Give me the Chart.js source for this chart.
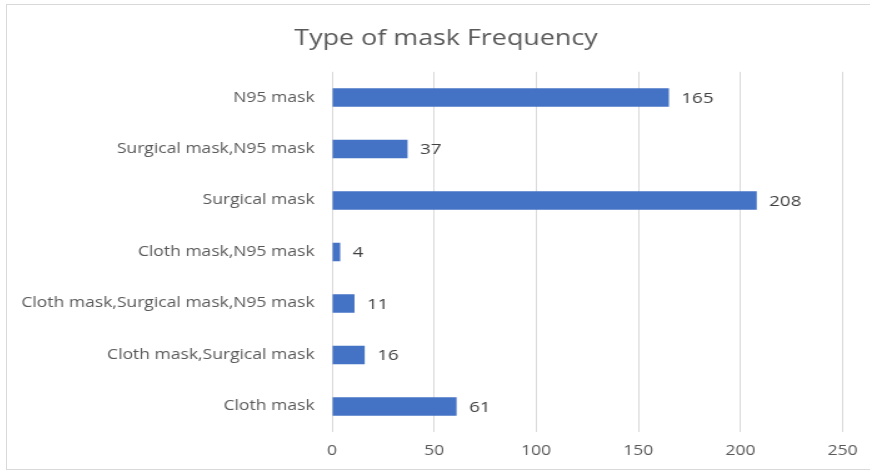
<!DOCTYPE html>
<html lang="en">
<head>
    <meta charset="UTF-8">
    <title>Type of mask Frequency</title>
    <script src="https://cdn.jsdelivr.net/npm/chart.js"></script>
    <style>
        html, body {
            margin: 0;
            padding: 0;
            background: white;
            overflow: hidden;
        }
        .chart-box {
            position: absolute;
            left: 6px;
            top: 4px;
            width: 880px;
            height: 464px;
            border: 1px solid #d9d9d9;
            background: white;
        }
        /* the original picture is stretched sideways, so the chart is drawn
           narrower and widened by the same factor */
        .chart-inner {
            position: absolute;
            left: 0;
            top: 0;
            width: 690.4px;
            height: 464px;
            transform: scaleX(1.25);
            transform-origin: 0 0;
        }
    </style>
</head>
<body>
    <div class="chart-box">
        <div class="chart-inner">
            <canvas id="maskChart"></canvas>
        </div>
    </div>

    <script>
        // Data (top to bottom)
        const categories = [
            'N95 mask',
            'Surgical mask,N95 mask',
            'Surgical mask',
            'Cloth mask,N95 mask',
            'Cloth mask,Surgical mask,N95 mask',
            'Cloth mask,Surgical mask',
            'Cloth mask'
        ];
        const frequencies = [165, 37, 208, 4, 11, 16, 61];
        const xTicks = [0, 50, 100, 150, 200, 250];

        const fontFamily = "'Open Sans', 'Noto Sans', sans-serif";

        // draws the value next to each bar
        const barValues = {
            id: 'barValues',
            afterDatasetsDraw(chart) {
                const ctx = chart.ctx;
                ctx.save();
                ctx.font = '15px ' + fontFamily;
                ctx.fillStyle = '#404040';
                ctx.textAlign = 'left';
                ctx.textBaseline = 'middle';
                chart.getDatasetMeta(0).data.forEach((bar, i) => {
                    ctx.fillText(frequencies[i], bar.x + 10, bar.y + 1);
                });
                ctx.restore();
            }
        };

        // the original title sits a bit right of the canvas centre
        const titleShift = {
            id: 'titleShift',
            afterLayout(chart) {
                if (chart.titleBlock) {
                    chart.titleBlock.left += 16;
                    chart.titleBlock.right += 16;
                }
            }
        };

        new Chart(document.getElementById('maskChart'), {
            type: 'bar',
            data: {
                labels: categories,
                datasets: [{
                    data: frequencies,
                    backgroundColor: '#4472c4',
                    borderWidth: 0,
                    barPercentage: 0.36,
                    categoryPercentage: 1
                }]
            },
            options: {
                indexAxis: 'y',
                responsive: true,
                maintainAspectRatio: false,
                animation: false,
                layout: {
                    padding: { top: 0, right: 20, bottom: 0, left: 0 }
                },
                plugins: {
                    legend: { display: false },
                    tooltip: { enabled: false },
                    title: {
                        display: true,
                        text: 'Type of mask Frequency',
                        color: '#595959',
                        font: { family: fontFamily, size: 21.5, weight: 'normal' },
                        padding: { top: 21, bottom: 20 }
                    }
                },
                scales: {
                    x: {
                        min: 0,
                        max: 250,
                        afterBuildTicks(scale) {
                            scale.ticks = xTicks.map(v => ({ value: v }));
                        },
                        grid: {
                            color: '#d9d9d9',
                            lineWidth: 1,
                            drawTicks: false
                        },
                        border: { display: false },
                        ticks: {
                            color: '#595959',
                            padding: 10,
                            font: { family: fontFamily, size: 14 }
                        }
                    },
                    y: {
                        afterFit(scale) {
                            scale.width = 260;
                        },
                        grid: { display: false, drawTicks: false },
                        border: { display: false },
                        ticks: {
                            color: '#595959',
                            padding: 14,
                            font: { family: fontFamily, size: 14 }
                        }
                    }
                }
            },
            plugins: [barValues, titleShift]
        });
    </script>
</body>
</html>
